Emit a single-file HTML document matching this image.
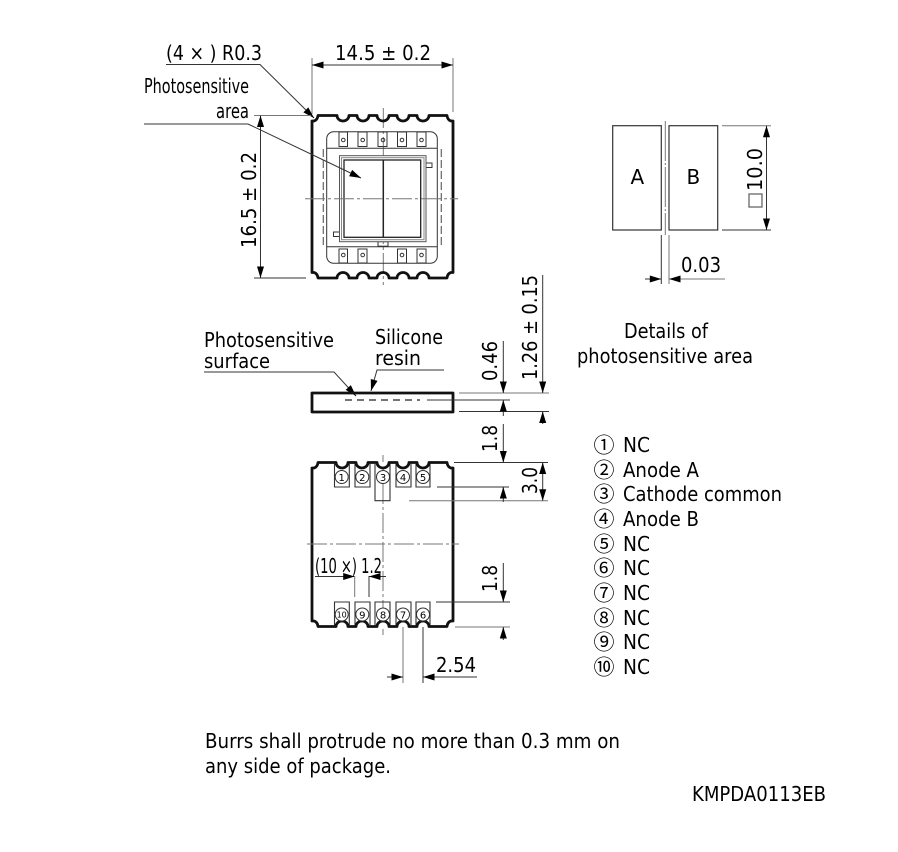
<!DOCTYPE html>
<html><head><meta charset="utf-8"><style>
html,body{margin:0;padding:0;background:#fff}
svg{display:block}
text{font-family:"DejaVu Sans","Liberation Sans",sans-serif;font-size:20px;fill:#000}
.t{stroke:#333;stroke-width:1;fill:none}
.g{stroke:#777;stroke-width:1;fill:none}
.b{stroke:#111;stroke-width:2.8;fill:none;stroke-linejoin:round}
.cl{stroke:#777;stroke-width:1;fill:none;stroke-dasharray:20 3 3 3}
.n{font-size:10px;text-anchor:middle}
.c{font-family:"Noto Sans CJK JP",sans-serif;font-size:21px}
</style></head><body>
<svg width="898" height="852" viewBox="0 0 898 852" xmlns="http://www.w3.org/2000/svg">
<defs>
<marker id="a" markerUnits="userSpaceOnUse" markerWidth="13" markerHeight="9" refX="12" refY="4.5" orient="auto"><path d="M0.5,1 L12,4.5 L0.5,8 Z" fill="#000"/></marker>
</defs>

<!-- Top package -->
<line class="cl" x1="383.3" y1="108" x2="383.3" y2="285"/>
<path class="b" d="M312,121 H314 Q317.5,120 318,115.5 H337 a6,5.5 0 0 0 12,0 H357 a6,5.5 0 0 0 12,0 H377 a6,5.5 0 0 0 12,0 H397 a6,5.5 0 0 0 12,0 H417 a6,5.5 0 0 0 12,0 H447 Q447.5,120 451,121 H453 V272.5 H451 Q447.5,273.5 447,278 H429 a6,5.5 0 0 0 -12,0 H409 a6,5.5 0 0 0 -12,0 H389 a6,5.5 0 0 0 -12,0 H369 a6,5.5 0 0 0 -12,0 H349 a6,5.5 0 0 0 -12,0 H318 Q317.5,273.5 314,272.5 H312 Z"/>
<rect class="t" x="326.7" y="131.7" width="110.6" height="131.6" rx="7"/>
<line class="t" x1="326.7" y1="148.3" x2="437.3" y2="148.3"/>
<line class="t" x1="326.7" y1="246.7" x2="437.3" y2="246.7"/>
<g class="t">
<rect x="339" y="132" width="8.5" height="14.5"/><circle cx="343.3" cy="140" r="1.8"/>
<rect x="358" y="132" width="9" height="14.5"/><circle cx="362.7" cy="140" r="1.8"/>
<rect x="378" y="132" width="9" height="14.5"/><circle cx="383" cy="140" r="1.8"/>
<rect x="397.5" y="132" width="9" height="14.5"/><circle cx="402" cy="140" r="1.8"/>
<rect x="417" y="132" width="9" height="14.5"/><circle cx="421.5" cy="140" r="1.8"/>
<rect x="339" y="249" width="8.5" height="14"/><circle cx="343.3" cy="255" r="1.8"/>
<rect x="358" y="249" width="9" height="14"/><circle cx="362.7" cy="255" r="1.8"/>
<rect x="397.5" y="249" width="9" height="14"/><circle cx="402" cy="255" r="1.8"/>
<rect x="417" y="249" width="9" height="14"/><circle cx="421.5" cy="255" r="1.8"/>
<rect x="426" y="163" width="6" height="4.5"/>
<rect x="333.5" y="232" width="6" height="4.5"/>
<rect x="378" y="241.7" width="10" height="4.5"/>
</g>
<rect x="339.5" y="155.7" width="86.5" height="86" fill="#fff" stroke="#555" stroke-width="1"/>
<rect x="341.5" y="157.7" width="82.5" height="82" fill="none" stroke="#888" stroke-width="1"/>
<rect x="344" y="160" width="76.7" height="77.3" fill="none" stroke="#222" stroke-width="1.3"/>
<line x1="383.3" y1="160" x2="383.3" y2="237" stroke="#222" stroke-width="1.5"/>
<line x1="323.3" y1="149" x2="323.3" y2="245" stroke="#666" stroke-width="1.2" stroke-dasharray="8 3"/>
<line x1="441.3" y1="149" x2="441.3" y2="245" stroke="#666" stroke-width="1.2" stroke-dasharray="8 3"/>
<line class="cl" x1="305" y1="198.7" x2="458" y2="198.7"/>

<!-- Top dims -->
<line class="g" x1="312" y1="58" x2="312" y2="114"/>
<line class="g" x1="453" y1="58" x2="453" y2="112"/>
<line class="t" x1="382" y1="65" x2="312" y2="65" marker-end="url(#a)"/>
<line class="t" x1="382" y1="65" x2="453" y2="65" marker-end="url(#a)"/>
<text x="335" y="60" textLength="96" lengthAdjust="spacingAndGlyphs">14.5 ± 0.2</text>
<text x="166" y="60" textLength="96" lengthAdjust="spacingAndGlyphs">(4 × ) R0.3</text>
<polyline class="t" points="166,64.5 260,64.5 314,118" marker-end="url(#a)"/>
<text x="144" y="93" textLength="105" lengthAdjust="spacingAndGlyphs">Photosensitive</text>
<text x="216" y="118" textLength="33" lengthAdjust="spacingAndGlyphs">area</text>
<polyline class="t" points="144,124 248,124 361,178" marker-end="url(#a)"/>
<line class="g" x1="254" y1="115.5" x2="311" y2="115.5"/>
<line class="t" x1="254" y1="278" x2="306" y2="278"/>
<line class="t" x1="260.5" y1="197" x2="260.5" y2="115.5" marker-end="url(#a)"/>
<line class="t" x1="260.5" y1="197" x2="260.5" y2="278" marker-end="url(#a)"/>
<text transform="translate(256,248) rotate(-90)" textLength="96" lengthAdjust="spacingAndGlyphs">16.5 ± 0.2</text>

<!-- Detail -->
<rect x="612.7" y="125.7" width="48.6" height="104.3" fill="none" stroke="#333" stroke-width="1.2"/>
<rect x="669" y="125.7" width="48.7" height="104.3" fill="none" stroke="#333" stroke-width="1.2"/>
<line class="cl" x1="665.3" y1="121" x2="665.3" y2="235" style="stroke-dasharray:40 2 2 2"/>
<text x="630.5" y="184">A</text>
<text x="686.5" y="184">B</text>
<line class="g" x1="722" y1="125.7" x2="771" y2="125.7"/>
<line class="t" x1="722" y1="230" x2="771" y2="230"/>
<line class="t" x1="766.5" y1="178" x2="766.5" y2="125.7" marker-end="url(#a)"/>
<line class="t" x1="766.5" y1="178" x2="766.5" y2="230" marker-end="url(#a)"/>
<rect x="749" y="194" width="13" height="13" fill="none" stroke="#666" stroke-width="1.3"/>
<text transform="translate(762,191) rotate(-90)" textLength="43" lengthAdjust="spacingAndGlyphs">10.0</text>
<line class="t" x1="661.3" y1="235" x2="661.3" y2="284"/>
<line class="g" x1="669" y1="235" x2="669" y2="284"/>
<line class="t" x1="645" y1="279" x2="661.3" y2="279" marker-end="url(#a)"/>
<line class="g" x1="725" y1="279" x2="669" y2="279" marker-end="url(#a)"/>
<text x="681" y="272" textLength="40" lengthAdjust="spacingAndGlyphs">0.03</text>
<text x="624" y="338" textLength="84" lengthAdjust="spacingAndGlyphs">Details of</text>
<text x="577" y="363" textLength="176" lengthAdjust="spacingAndGlyphs">photosensitive area</text>

<!-- Side view -->
<text x="204" y="347" textLength="130" lengthAdjust="spacingAndGlyphs">Photosensitive</text>
<text x="204" y="368" textLength="66" lengthAdjust="spacingAndGlyphs">surface</text>
<text x="375" y="344" textLength="68" lengthAdjust="spacingAndGlyphs">Silicone</text>
<text x="375" y="365" textLength="46" lengthAdjust="spacingAndGlyphs">resin</text>
<polyline class="t" points="204,372 334,372 356,396" marker-end="url(#a)"/>
<polyline class="t" points="444,370 377,370 371,391" marker-end="url(#a)"/>
<rect class="b" x="312" y="393" width="141" height="19"/>
<line x1="345" y1="400" x2="420" y2="400" stroke="#222" stroke-width="1.2" stroke-dasharray="7 5"/>
<line class="t" x1="427" y1="400" x2="510" y2="400"/>
<line class="g" x1="459" y1="393" x2="549" y2="393"/>
<line class="t" x1="459" y1="411.5" x2="549" y2="411.5"/>
<line class="t" x1="503.3" y1="341" x2="503.3" y2="393" marker-end="url(#a)"/>
<line class="t" x1="503.3" y1="416" x2="503.3" y2="400" marker-end="url(#a)"/>
<line class="t" x1="542.7" y1="275" x2="542.7" y2="393" marker-end="url(#a)"/>
<line class="t" x1="542.7" y1="424" x2="542.7" y2="411.5" marker-end="url(#a)"/>
<text transform="translate(497,381) rotate(-90)" textLength="40" lengthAdjust="spacingAndGlyphs">0.46</text>
<text transform="translate(537,380) rotate(-90)" textLength="105" lengthAdjust="spacingAndGlyphs">1.26 ± 0.15</text>

<!-- Bottom view -->
<line class="cl" x1="383" y1="455" x2="383" y2="635"/>
<g fill="none" stroke="#333" stroke-width="1.1">
<path d="M334.5,464 V487 H349.3 V464"/>
<path d="M355,464 V487 H370 V464"/>
<path d="M375,464 V500.7 H390 V464"/>
<path d="M396,464 V487 H411 V464"/>
<path d="M416,464 V487 H430 V464"/>
<path d="M334.5,625 V602 H349.3 V625"/>
<path d="M355,625 V602 H370 V625"/>
<path d="M375,625 V602 H390 V625"/>
<path d="M396,625 V602 H411 V625"/>
<path d="M416,625 V602 H430 V625"/>
</g>
<g fill="#fff" stroke="none">
<path d="M336,462 a6,6 0 0 0 12,0 Z M356,462 a6,6 0 0 0 12,0 Z M377,462 a6,6 0 0 0 12,0 Z M397,462 a6,6 0 0 0 12,0 Z M417,462 a6,6 0 0 0 12,0 Z"/>
<path d="M336,627 a6,6 0 0 1 12,0 Z M356,627 a6,6 0 0 1 12,0 Z M377,627 a6,6 0 0 1 12,0 Z M397,627 a6,6 0 0 1 12,0 Z M417,627 a6,6 0 0 1 12,0 Z"/>
</g>
<path class="b" d="M312,468 H314 Q317.5,467 318,462.5 H336 a6,5.5 0 0 0 12,0 H356 a6,5.5 0 0 0 12,0 H377 a6,5.5 0 0 0 12,0 H397 a6,5.5 0 0 0 12,0 H417 a6,5.5 0 0 0 12,0 H447 Q447.5,467 451,468 H453 V621 H451 Q447.5,622 447,626.5 H429 a6,5.5 0 0 0 -12,0 H409 a6,5.5 0 0 0 -12,0 H389 a6,5.5 0 0 0 -12,0 H368 a6,5.5 0 0 0 -12,0 H348 a6,5.5 0 0 0 -12,0 H318 Q317.5,622 314,621 H312 Z"/>
<g fill="#fff" stroke="#333" stroke-width="1">
<circle cx="341.7" cy="477" r="6.5"/><circle cx="362.3" cy="477" r="6.5"/><circle cx="383" cy="477" r="6.5"/><circle cx="403" cy="477" r="6.5"/><circle cx="423" cy="477" r="6.5"/>
<circle cx="341.7" cy="614.5" r="6.5"/><circle cx="362.3" cy="614.5" r="6.5"/><circle cx="383" cy="614.5" r="6.5"/><circle cx="403" cy="614.5" r="6.5"/><circle cx="423" cy="614.5" r="6.5"/>
</g>
<text class="n" x="341.7" y="481">1</text><text class="n" x="362.3" y="481">2</text><text class="n" x="383" y="481">3</text><text class="n" x="403" y="481">4</text><text class="n" x="423" y="481">5</text>
<text class="n" x="341.7" y="617.5" style="font-size:8px">10</text><text class="n" x="362.3" y="618.5">9</text><text class="n" x="383" y="618.5">8</text><text class="n" x="403" y="618.5">7</text><text class="n" x="423" y="618.5">6</text>
<line class="cl" x1="307" y1="544" x2="459" y2="544"/>

<line class="t" x1="454" y1="462.5" x2="548" y2="462.5"/>
<line class="t" x1="437" y1="487" x2="509" y2="487"/>
<line class="g" x1="409" y1="500.7" x2="548" y2="500.7"/>
<line class="t" x1="503.3" y1="424" x2="503.3" y2="462.5" marker-end="url(#a)"/>
<line class="t" x1="503.3" y1="502" x2="503.3" y2="487" marker-end="url(#a)"/>
<line class="t" x1="542.7" y1="481" x2="542.7" y2="462.5" marker-end="url(#a)"/>
<line class="t" x1="542.7" y1="481" x2="542.7" y2="500.7" marker-end="url(#a)"/>
<text transform="translate(497,452) rotate(-90)" textLength="27" lengthAdjust="spacingAndGlyphs">1.8</text>
<text transform="translate(537,494) rotate(-90)" textLength="27" lengthAdjust="spacingAndGlyphs">3.0</text>

<line class="t" x1="436" y1="602" x2="510" y2="602"/>
<line class="g" x1="455" y1="627" x2="510" y2="627"/>
<line class="t" x1="503.3" y1="563" x2="503.3" y2="602" marker-end="url(#a)"/>
<line class="t" x1="503.3" y1="640" x2="503.3" y2="627" marker-end="url(#a)"/>
<text transform="translate(497,592) rotate(-90)" textLength="27" lengthAdjust="spacingAndGlyphs">1.8</text>

<text x="315" y="573" textLength="67" lengthAdjust="spacingAndGlyphs">(10 ×) 1.2</text>
<line class="t" x1="315" y1="576.5" x2="354.7" y2="576.5" marker-end="url(#a)"/>
<line class="t" x1="386" y1="576.5" x2="369" y2="576.5" marker-end="url(#a)"/>
<line class="g" x1="354.7" y1="576" x2="354.7" y2="597"/>
<line class="t" x1="369" y1="576" x2="369" y2="597"/>
<line class="g" x1="403" y1="627" x2="403" y2="683"/>
<line class="t" x1="423" y1="627" x2="423" y2="683"/>
<line class="t" x1="387" y1="677" x2="403" y2="677" marker-end="url(#a)"/>
<line class="t" x1="477" y1="677" x2="423" y2="677" marker-end="url(#a)"/>
<text x="436" y="672" textLength="40" lengthAdjust="spacingAndGlyphs">2.54</text>

<!-- Legend -->
<text class="c" x="593.5" y="452.5">①</text>
<text class="c" x="593.5" y="477.5">②</text>
<text class="c" x="593.5" y="501.5">③</text>
<text class="c" x="593.5" y="526.5">④</text>
<text class="c" x="593.5" y="551.5">⑤</text>
<text class="c" x="593.5" y="575.5">⑥</text>
<text class="c" x="593.5" y="600.5">⑦</text>
<text class="c" x="593.5" y="625.5">⑧</text>
<text class="c" x="593.5" y="649.5">⑨</text>
<text class="c" x="593.5" y="674.5">⑩</text>
<text x="623" y="452" textLength="27" lengthAdjust="spacingAndGlyphs">NC</text>
<text x="623" y="477" textLength="76" lengthAdjust="spacingAndGlyphs">Anode A</text>
<text x="623" y="501" textLength="159" lengthAdjust="spacingAndGlyphs">Cathode common</text>
<text x="623" y="526" textLength="76" lengthAdjust="spacingAndGlyphs">Anode B</text>
<text x="623" y="551" textLength="27" lengthAdjust="spacingAndGlyphs">NC</text>
<text x="623" y="575" textLength="27" lengthAdjust="spacingAndGlyphs">NC</text>
<text x="623" y="600" textLength="27" lengthAdjust="spacingAndGlyphs">NC</text>
<text x="623" y="625" textLength="27" lengthAdjust="spacingAndGlyphs">NC</text>
<text x="623" y="649" textLength="27" lengthAdjust="spacingAndGlyphs">NC</text>
<text x="623" y="674" textLength="27" lengthAdjust="spacingAndGlyphs">NC</text>

<!-- Footer -->
<text x="205" y="748" textLength="415" lengthAdjust="spacingAndGlyphs">Burrs shall protrude no more than 0.3 mm on</text>
<text x="205" y="773" textLength="186" lengthAdjust="spacingAndGlyphs">any side of package.</text>
<text x="692" y="801" textLength="134" lengthAdjust="spacingAndGlyphs">KMPDA0113EB</text>
</svg>
</body></html>
